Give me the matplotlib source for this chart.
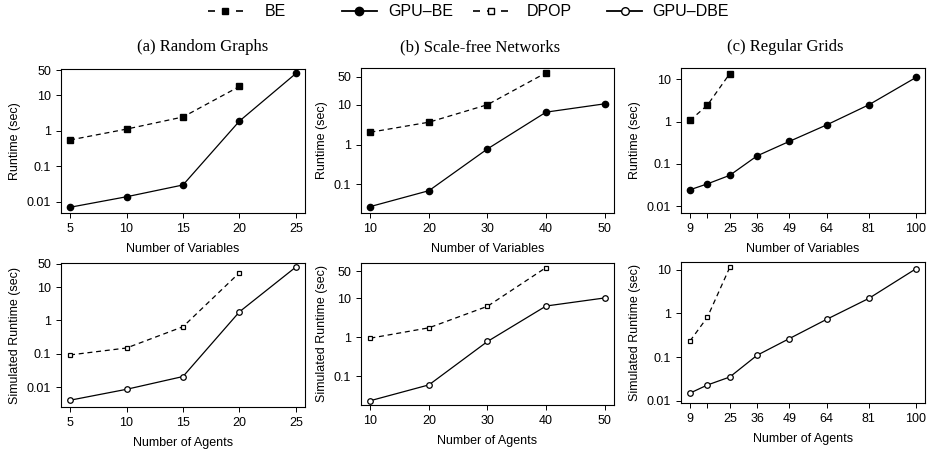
import numpy as np
import matplotlib
matplotlib.use("Agg")
import matplotlib.pyplot as plt
from matplotlib.lines import Line2D

plt.rcParams['font.family'] = ['Liberation Sans', 'DejaVu Sans']

# --- data ---
x_rand = [5, 10, 15, 20, 25]
be_rand = [0.55, 1.11, 2.43, 17.5]
gpube_rand = [0.0071, 0.014, 0.030, 1.87, 40.6]
dpop_rand = [0.093, 0.15, 0.65, 27]
gpudbe_rand = [0.0041, 0.0087, 0.021, 1.82, 40]

x_sf = [10, 20, 30, 40, 50]
be_sf = [2.04, 3.64, 10.0, 63]
gpube_sf = [0.028, 0.070, 0.78, 6.5, 10.5]
dpop_sf = [0.96, 1.77, 6.3, 62]
gpudbe_sf = [0.024, 0.061, 0.79, 6.4, 10.3]

x_grid = [9, 16, 25, 36, 49, 64, 81, 100]
be_grid = [1.06, 2.43, 13.4]
gpube_grid = [0.0247, 0.034, 0.054, 0.155, 0.34, 0.83, 2.47, 10.9]
dpop_grid = [0.234, 0.82, 11.3]
gpudbe_grid = [0.015, 0.023, 0.035, 0.11, 0.265, 0.73, 2.2, 10.5]

titles = ['(a) Random Graphs', '(b) Scale-free Networks', '(c) Regular Grids']
xticklabels_grid = ['9', '', '25', '36', '49', '64', '81', '100']
series_names = ['BE', 'GPU\u2013BE', 'DPOP', 'GPU\u2013DBE']

fig = plt.figure(figsize=(9.28, 4.53), dpi=100)
W, H = 928, 453

def add_ax(l, r, t, b):
    return fig.add_axes([l / W, 1 - b / H, (r - l) / W, (b - t) / H])

top_boxes = [(61, 305, 69, 213), (361, 614, 68, 213), (681, 925, 68, 213)]
bot_boxes = [(61, 305, 263, 407), (361, 614, 263, 405), (681, 925, 262, 403)]
top_ylims = [(0.0049, 54), (0.0193, 83), (0.007, 18.2)]
bot_ylims = [(0.00257, 52.5), (0.0186, 81), (0.0089, 15)]
yticks = [[0.01, 0.1, 1, 10, 50], [0.1, 1, 10, 50], [0.01, 0.1, 1, 10]]
title_x = [203, 480, 785]

top_data = [(x_rand, be_rand, gpube_rand), (x_sf, be_sf, gpube_sf), (x_grid, be_grid, gpube_grid)]
bot_data = [(x_rand, dpop_rand, gpudbe_rand), (x_sf, dpop_sf, gpudbe_sf), (x_grid, dpop_grid, gpudbe_grid)]

fs = 9

def style(ax, i, xs, ylim, xlabel, ylabel):
    ax.set_yscale('log')
    ax.set_ylim(*ylim)
    span = xs[-1] - xs[0]
    ax.set_xlim(xs[0] - 0.04 * span, xs[-1] + 0.04 * span)
    ax.set_xticks(xs)
    if i == 2:
        ax.set_xticklabels(xticklabels_grid)
    else:
        ax.set_xticklabels([str(v) for v in xs])
    ax.set_yticks(yticks[i])
    ax.set_yticklabels([('%g' % v) for v in yticks[i]])
    ax.minorticks_off()
    ax.tick_params(labelsize=fs, length=3.8, width=0.7, pad=3.2)
    for s in ax.spines.values():
        s.set_linewidth(0.8)
    ax.set_xlabel(xlabel, fontsize=fs, labelpad=6)
    ax.set_ylabel(ylabel, fontsize=fs, labelpad=4)

for i in range(3):
    ax = add_ax(*top_boxes[i])
    xs, be, gb = top_data[i]
    ax.plot(xs[:len(be)], be, ls=(0, (4, 3)), color='black', lw=0.9,
            marker='s', ms=4, mfc='black', mec='black')
    ax.plot(xs, gb, ls='-', color='black', lw=0.9,
            marker='o', ms=4.5, mfc='black', mec='black')
    style(ax, i, xs, top_ylims[i], 'Number of Variables', 'Runtime (sec)')
    fig.text(title_x[i] / W, 1 - 47 / H, titles[i], family='Liberation Serif',
             fontsize=12, ha='center', va='center')

    ax = add_ax(*bot_boxes[i])
    xs, dp, gd = bot_data[i]
    ax.plot(xs[:len(dp)], dp, ls=(0, (4, 3)), color='black', lw=0.9,
            marker='s', ms=3.5, mfc='white', mec='black', mew=0.9)
    ax.plot(xs, gd, ls='-', color='black', lw=0.9,
            marker='o', ms=4, mfc='white', mec='black', mew=0.9)
    style(ax, i, xs, bot_ylims[i], 'Number of Agents', 'Simulated Runtime (sec)')

# legend drawn by hand, R-style fixed-width columns
handle_x = [208, 342, 473, 607]
text_x = [265, 388, 527, 652]
handle_style = [
    dict(ls=(0, (4.2, 4.2)), lw=1.2, marker='s', ms=5, mfc='black'),
    dict(ls='-', lw=1.3, marker='o', ms=6, mfc='black'),
    dict(ls=(0, (4.2, 4.2)), lw=1.2, marker='s', ms=5, mfc='white'),
    dict(ls='-', lw=1.3, marker='o', ms=5.5, mfc='white'),
]
ly = 1 - 11 / H
for hx, tx, st, name in zip(handle_x, text_x, handle_style, series_names):
    x0, x1 = hx / W, (hx + 35) / W
    fig.add_artist(Line2D([x0, x1], [ly, ly], color='black', transform=fig.transFigure,
                          **{k: v for k, v in st.items() if k not in ('marker', 'ms', 'mfc')}))
    fig.add_artist(Line2D([(x0 + x1) / 2], [ly], color='black', transform=fig.transFigure,
                          ls='none', marker=st['marker'], ms=st['ms'], mfc=st['mfc'],
                          mec='black', mew=1.0))
    fig.text(tx / W, ly, name, fontsize=11.5, ha='left', va='center')

fig.savefig('out.png', dpi=100)
